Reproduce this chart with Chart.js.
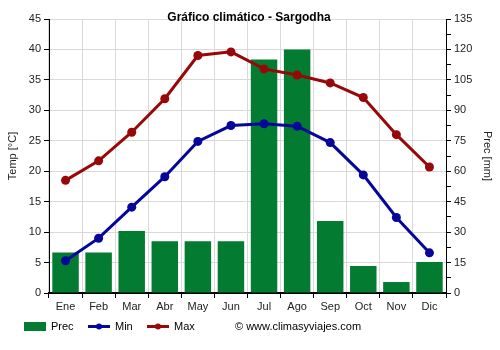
<!DOCTYPE html>
<html>
<head>
<meta charset="utf-8">
<script src="https://cdn.jsdelivr.net/npm/chart.js@4"></script>
<style>
  html, body { margin: 0; padding: 0; background: #fff; }
  #wrap { width: 500px; height: 350px; }
</style>
</head>
<body>
<div id="wrap"><canvas id="climaChart" width="500" height="350"></canvas></div>
<script>
const meses = ['Ene', 'Feb', 'Mar', 'Abr', 'May', 'Jun', 'Jul', 'Ago', 'Sep', 'Oct', 'Nov', 'Dic'];
const prec = [20, 20, 30.5, 25.5, 25.5, 25.5, 115, 120, 35.5, 13.3, 5.4, 15.3];
const tempMin = [5.3, 9.0, 14.1, 19.1, 24.9, 27.5, 27.8, 27.4, 24.7, 19.4, 12.4, 6.6];
const tempMax = [18.5, 21.7, 26.4, 31.9, 39.0, 39.6, 36.8, 35.8, 34.5, 32.1, 26.0, 20.7];

const FONT = "'Liberation Sans', Arial, sans-serif";
const VERDE = '#037c31';
const AZUL = '#06069a';
const ROJO = '#990808';

// titulo y leyenda dibujados a mano sobre el canvas
const extras = {
  id: 'extras',
  afterDraw(chart) {
    const ctx = chart.ctx;
    ctx.save();
    ctx.fillStyle = '#000';
    ctx.font = 'bold 12px ' + FONT;
    ctx.textAlign = 'center';
    ctx.textBaseline = 'middle';
    ctx.fillText('Gráfico climático - Sargodha', 249, 18);

    ctx.font = '11px ' + FONT;
    ctx.textAlign = 'left';
    const y = 326.5;
    const ds = chart.data.datasets;
    // Prec
    ctx.fillStyle = ds[2].backgroundColor;
    ctx.fillRect(24, 322, 22, 9);
    ctx.fillStyle = '#000';
    ctx.fillText(ds[2].label, 51, y);
    // Min / Max
    [[ds[0], 88, 115], [ds[1], 147, 174]].forEach(([d, x0, xt]) => {
      ctx.strokeStyle = d.borderColor;
      ctx.lineWidth = 3;
      ctx.beginPath();
      ctx.moveTo(x0, y);
      ctx.lineTo(x0 + 22, y);
      ctx.stroke();
      ctx.fillStyle = d.borderColor;
      ctx.beginPath();
      ctx.arc(x0 + 11, y, 3, 0, Math.PI * 2);
      ctx.fill();
      ctx.fillStyle = '#000';
      ctx.fillText(d.label, xt, y);
    });
    ctx.fillText('© www.climasyviajes.com', 235, y);
    ctx.restore();
  }
};

new Chart(document.getElementById('climaChart').getContext('2d'), {
  type: 'bar',
  data: {
    labels: meses,
    datasets: [
      {
        type: 'line', label: 'Min', data: tempMin, yAxisID: 'y', order: 1,
        borderColor: AZUL, backgroundColor: AZUL, borderWidth: 3,
        pointRadius: 4.5, pointBorderWidth: 0, pointHoverRadius: 4.5, tension: 0
      },
      {
        type: 'line', label: 'Max', data: tempMax, yAxisID: 'y', order: 2,
        borderColor: ROJO, backgroundColor: ROJO, borderWidth: 3,
        pointRadius: 4.5, pointBorderWidth: 0, pointHoverRadius: 4.5, tension: 0
      },
      {
        type: 'bar', label: 'Prec', data: prec, yAxisID: 'y1', order: 3,
        backgroundColor: VERDE, barPercentage: 0.8, categoryPercentage: 1
      }
    ]
  },
  options: {
    responsive: false,
    animation: false,
    layout: { padding: { top: 19, left: 0, right: 0, bottom: 0 } },
    plugins: {
      legend: { display: false },
      title: { display: false },
      tooltip: { enabled: false }
    },
    scales: {
      x: {
        offset: true,
        grid: { offset: true, color: '#d9d9d9', tickLength: 5, tickColor: '#000' },
        border: { color: '#000', width: 2 },
        ticks: { color: '#222', font: { family: FONT, size: 11 }, padding: 2, maxRotation: 0 },
        afterFit(scale) { scale.height = 57; }
      },
      y: {
        position: 'left',
        min: 0, max: 45,
        ticks: { stepSize: 5, color: '#222', font: { family: FONT, size: 11 }, padding: 3 },
        grid: { color: '#d9d9d9', tickLength: 5, tickColor: '#000' },
        border: { color: '#000', width: 1 },
        title: { display: true, text: 'Temp [°C]', color: '#222', font: { family: FONT, size: 11 }, padding: { top: 6, bottom: 4 } },
        afterFit(scale) { scale.width = 49; }
      },
      y1: {
        position: 'right',
        min: 0, max: 135,
        ticks: {
          stepSize: 7.5, autoSkip: false, color: '#222', font: { family: FONT, size: 11 }, padding: 3,
          callback: v => (v % 15 === 0 ? v : '')
        },
        grid: { drawOnChartArea: false, tickLength: 5, tickColor: '#000' },
        border: { color: '#000', width: 1 },
        title: { display: true, text: 'Prec [mm]', color: '#222', font: { family: FONT, size: 11 }, padding: { top: 6, bottom: 4 } },
        afterFit(scale) { scale.width = 54; }
      }
    }
  },
  plugins: [extras]
});
</script>
</body>
</html>
